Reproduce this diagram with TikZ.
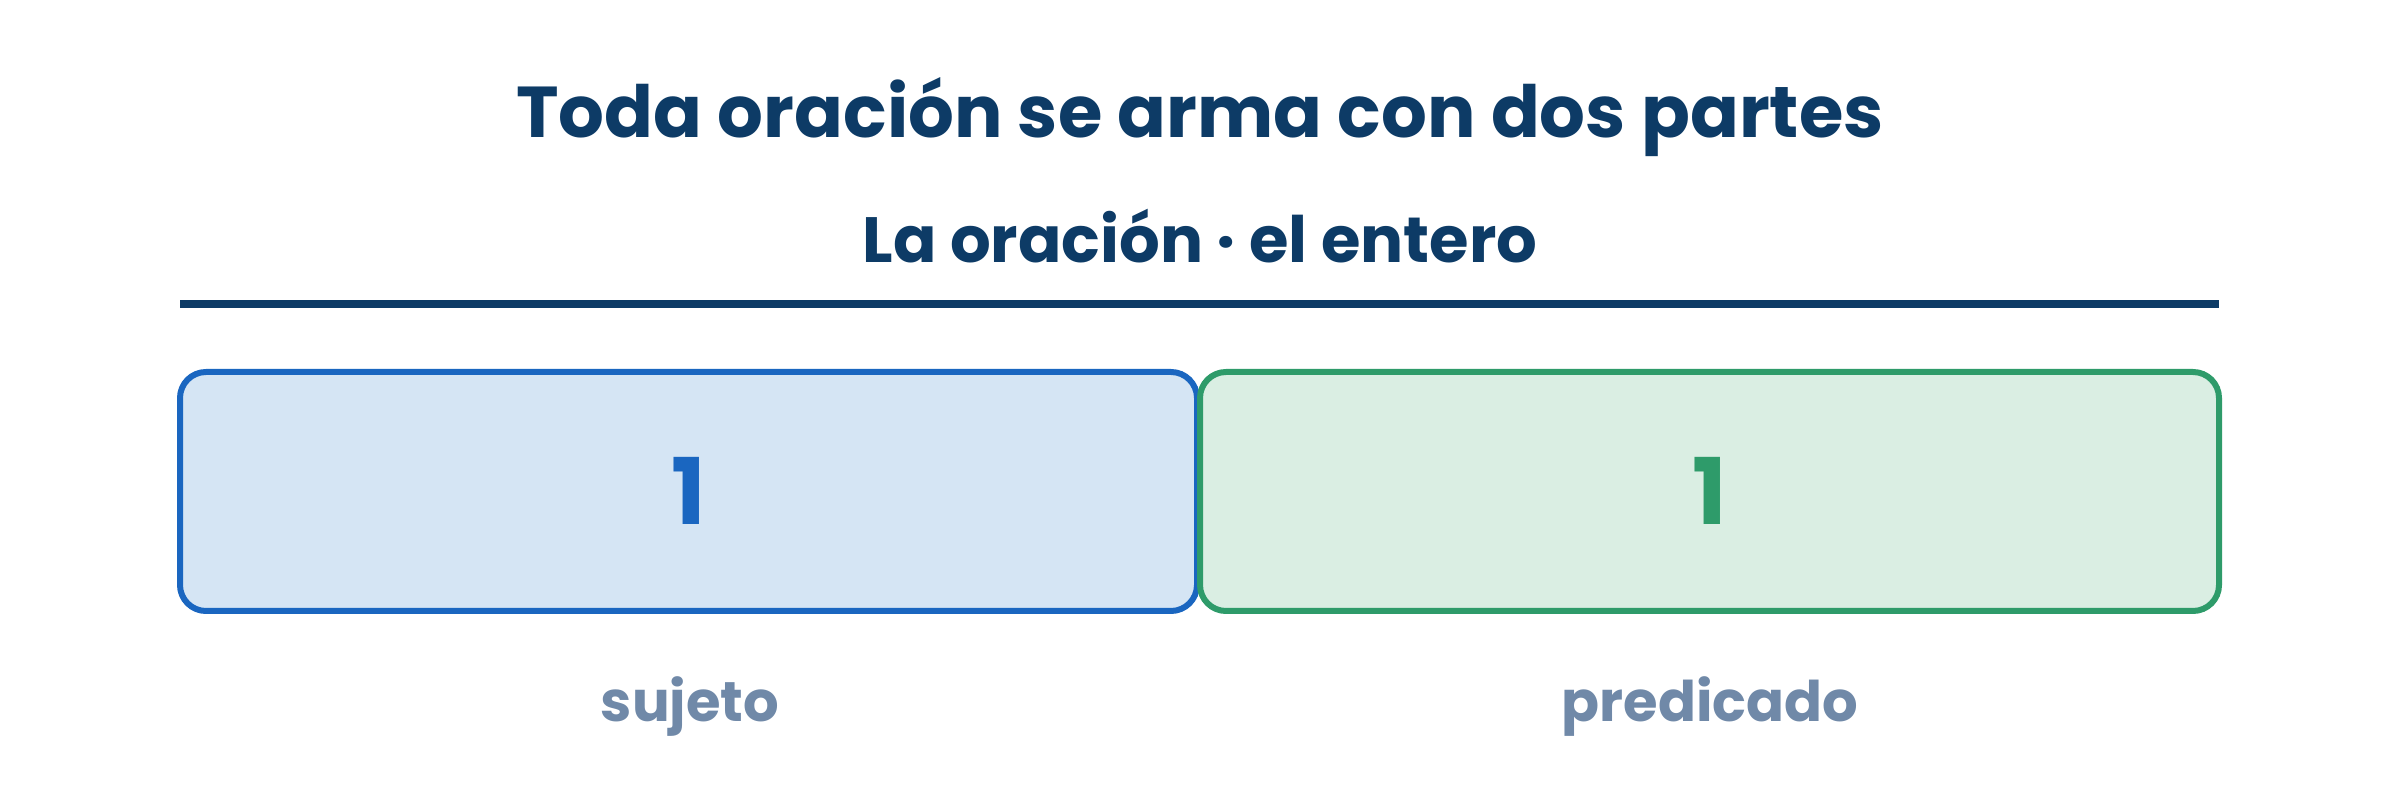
\documentclass[tikz,border=0pt]{standalone}
\usepackage{fontspec}
\setmainfont{Poppins}
\usepackage{tikz}
\usetikzlibrary{positioning}

\definecolor{navy}{HTML}{0D3B66}
\definecolor{sujblue}{HTML}{1A66C0}
\definecolor{sujfill}{HTML}{D5E5F4}
\definecolor{predgreen}{HTML}{2E9B6A}
\definecolor{predfill}{HTML}{DAEEE3}
\definecolor{etiq}{HTML}{7089A8}

\begin{document}
\begin{tikzpicture}[x=1pt,y=1pt,
  parte/.style={draw, line width=6pt, rounded corners=26pt, minimum height=239pt, inner sep=0pt,
    font=\fontsize{92}{100}\selectfont\bfseries},
  etiqueta/.style={anchor=base, text=etiq, font=\fontsize{56}{62}\selectfont\bfseries}]
\useasboundingbox (0,0) rectangle (2400,792);
\node[anchor=base, text=navy, font=\fontsize{72}{80}\selectfont\bfseries] (titulo) at (1200,654) {Toda oración se arma con dos partes};
\node[anchor=base, text=navy, font=\fontsize{64}{70}\selectfont\bfseries] (entero) at (1200,529) {La oración · el entero};
\draw[navy, line width=8pt] (180,488) -- (2219,488);
\node[parte, draw=sujblue, fill=sujfill, text=sujblue, minimum width=1017pt] (sujeto) at (688.5,300.5) {\raisebox{2pt}{1}};
\node[parte, draw=predgreen, fill=predfill, text=predgreen, minimum width=1019pt] (predicado) at (1709.5,300.5) {\raisebox{2pt}{1}};
\node[etiqueta] (lsujeto) at (690,70) {sujeto};
\node[etiqueta] (lpredicado) at (1710,70) {predicado};
\end{tikzpicture}
\end{document}
